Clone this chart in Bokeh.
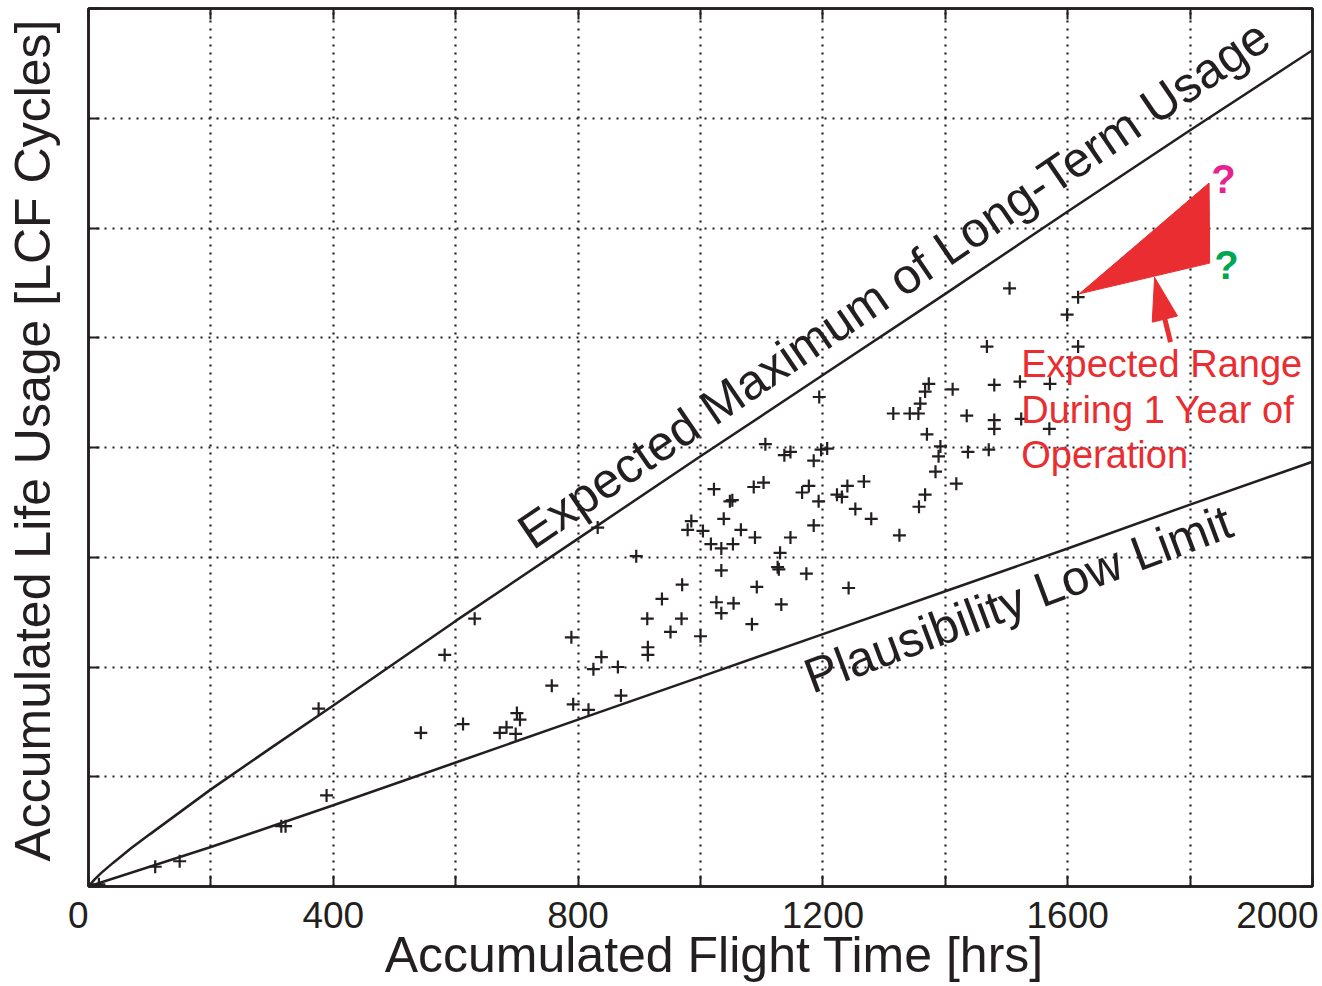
import math
from bokeh.plotting import figure
from bokeh.models import Range1d, FixedTicker, LinearAxis, Label
from bokeh.embed import file_html
from bokeh.resources import INLINE

# ---------------- data ----------------
flight_time = [17, 109, 149, 315, 322, 389, 376, 543, 582, 612, 631,
               672, 683, 698, 700, 705, 757, 789, 792, 817, 825, 838, 832, 865, 870,
               895, 914, 914, 913, 937, 951, 969, 970, 1000, 985, 979, 1004, 1022,
               1017, 1034, 1034, 1026, 1034, 1048, 1052, 1038, 1053, 1054, 1066,
               1084, 1089, 1092, 1087, 1103, 1106, 1130, 1126, 1128, 1147, 1132,
               1137, 1147, 1173, 1166, 1177, 1185, 1193, 1185, 1197, 1207, 1223,
               1231, 1240, 1253, 1267, 1279, 1242, 1315, 1325,
               1505, 1617, 1599, 1617, 1468, 1373, 1367, 1412, 1480, 1522, 1571,
               1194, 1359, 1342, 1356, 1435, 1480, 1480, 1524, 1570, 1370, 1392,
               1389, 1437, 1471, 1384, 1418, 1367, 1357]
life_usage = [0.02, 0.18, 0.23, 0.55, 0.55, 0.83, 1.62, 1.40, 2.11, 1.48, 2.44,
              1.40, 1.45, 1.39, 1.58, 1.52, 1.83, 2.27, 1.66, 1.61, 1.98, 2.09, 3.27, 2.00, 1.74,
              3.01, 2.18, 2.11, 2.44, 2.62, 2.32, 2.44, 2.75, 2.28, 3.33, 3.25, 3.24, 3.62,
              3.12, 3.08, 2.88, 2.59, 2.49, 3.51, 3.52, 3.35, 3.12, 2.58, 3.25,
              2.39, 3.18, 2.73, 3.64, 3.68, 4.03, 3.04, 2.91, 2.89, 3.18, 2.57,
              3.93, 3.96, 2.85, 3.59, 3.65, 3.29, 3.51, 3.88, 3.98, 3.99, 3.57,
              3.55, 3.65, 3.44, 3.69, 3.35, 2.72, 4.31, 3.20,
              5.45, 5.37, 5.21, 4.92, 4.92, 4.58, 4.51, 4.53, 4.57, 4.60, 4.58,
              4.46, 4.40, 4.31, 4.31, 4.29, 4.25, 4.17, 4.26, 4.17, 4.12, 4.01,
              3.92, 3.96, 3.98, 3.78, 3.67, 3.57, 3.46]

max_curve_hrs = [0, 10, 20, 40, 70, 100, 150, 200, 300, 400, 600, 800, 1000, 1200, 1400, 1600, 1800, 2000]
max_curve_lcf = [0, 0.065, 0.12, 0.215, 0.35, 0.475, 0.68, 0.885, 1.27, 1.65, 2.42, 3.17, 3.92, 4.66, 5.40, 6.15, 6.89, 7.62]

low_limit_hrs = [0, 200, 400, 600, 800, 1000, 1200, 1400, 1600, 1800, 2000]
low_limit_lcf = [0, 0.36, 0.74, 1.13, 1.52, 1.91, 2.30, 2.69, 3.08, 3.48, 3.87]

range_hrs = [1619, 1831, 1832]
range_lcf = [5.40, 6.41, 5.68]

arrow_hrs = [1768, 1742]   # tail, tip
arrow_lcf = [4.96, 5.55]

x_ticks = [0, 200, 400, 600, 800, 1000, 1200, 1400, 1600, 1800, 2000]
x_tick_labels = ["0", "", "400", "", "800", "", "1200", "", "1600", "", "2000"]
y_ticks = [0, 1, 2, 3, 4, 5, 6, 7, 8]

x_title = "Accumulated Flight Time [hrs]"
y_title = "Accumulated Life Usage [LCF Cycles]"
upper_label = "Expected Maximum of Long-Term Usage"
lower_label = "Plausibility Low Limit"
range_text = ["Expected Range", "During 1 Year of", "Operation"]

# ---------------- styling ----------------
BLACK = "#231f20"
RED = "#e92d30"
PINK = "#e6228c"
GREEN = "#00a651"
FONT = "Liberation Sans"
NBSP = "\u00a0"

W, H = 1318, 985
BL, BR, BT, BB = 88, 6, 8, 98
FW, FH = W - BL - BR, H - BT - BB
X0, X1, Y0, Y1 = 0, 2000, 0, 8

p = figure(width=W, height=H, x_range=Range1d(X0, X1), y_range=Range1d(Y0, Y1),
           output_backend="svg", toolbar_location=None,
           min_border_left=BL, min_border_right=BR, min_border_top=BT, min_border_bottom=BB)
p.background_fill_color = "white"
p.border_fill_color = "white"
p.outline_line_color = BLACK
p.outline_line_width = 2.5


def style_axis(ax, ticks):
    ax.ticker = FixedTicker(ticks=ticks)
    ax.axis_line_color = BLACK
    ax.axis_line_width = 2.5
    ax.major_tick_line_color = BLACK
    ax.major_tick_line_width = 2
    ax.major_tick_in = 11
    ax.major_tick_out = 0
    ax.minor_tick_line_color = None


def hide_labels(ax, ticks):
    ax.major_label_overrides = {t: "" for t in ticks}
    ax.major_label_text_font_size = "0px"
    ax.major_label_standoff = 0


# bottom axis: tick labels + title ("0" pulled slightly inward as in the original)
xb = p.xaxis[0]
style_axis(xb, x_ticks)
overrides = {t: lab for t, lab in zip(x_ticks, x_tick_labels)}
overrides[x_ticks[0]] = x_tick_labels[0] + NBSP * 2
xb.major_label_overrides = overrides
xb.major_label_text_font = FONT
xb.major_label_text_font_size = "37px"
xb.major_label_text_color = BLACK
xb.major_label_standoff = 8
xb.axis_label = NBSP * 2 + x_title
xb.axis_label_text_font = FONT
xb.axis_label_text_font_size = "50px"
xb.axis_label_text_font_style = "normal"
xb.axis_label_text_color = BLACK
xb.axis_label_standoff = -12

yl = p.yaxis[0]
style_axis(yl, y_ticks)
hide_labels(yl, y_ticks)
yl.axis_label = NBSP + y_title
yl.axis_label_text_font = FONT
yl.axis_label_text_font_size = "50px"
yl.axis_label_text_font_style = "normal"
yl.axis_label_text_color = BLACK
yl.axis_label_standoff = 28

xt = LinearAxis()
style_axis(xt, x_ticks)
hide_labels(xt, x_ticks)
p.add_layout(xt, "above")

yr = LinearAxis()
style_axis(yr, y_ticks)
hide_labels(yr, y_ticks)
p.add_layout(yr, "right")

p.xgrid.ticker = FixedTicker(ticks=x_ticks[1:-1])
p.ygrid.ticker = FixedTicker(ticks=y_ticks[1:-1])
for g in (p.xgrid[0], p.ygrid[0]):
    g.grid_line_color = BLACK
    g.grid_line_dash = "2 6"
    g.grid_line_width = 2.2
    g.grid_line_alpha = 1.0

# ---------------- glyphs ----------------
p.line(max_curve_hrs, max_curve_lcf, line_color=BLACK, line_width=2.5)
p.line(low_limit_hrs, low_limit_lcf, line_color=BLACK, line_width=2.5)
p.scatter(flight_time, life_usage, marker="cross", size=13, line_color=BLACK, line_width=2.2)

p.patch(range_hrs, range_lcf, fill_color=RED, line_color=RED, line_width=1)

# arrow: shaft + filled head, head geometry in screen pixels
sx = FW / (X1 - X0)
sy = FH / (Y1 - Y0)
tx, ty = arrow_hrs[1], arrow_lcf[1]
dx = (arrow_hrs[1] - arrow_hrs[0]) * sx
dy = (arrow_lcf[1] - arrow_lcf[0]) * sy
L = math.hypot(dx, dy)
ux, uy = dx / L, dy / L
nx, ny = -uy, ux
head_len, head_half = 43, 13
bx_px, by_px = -ux * head_len, -uy * head_len
base_x = tx + bx_px / sx
base_y = ty + by_px / sy
head_x = [tx, tx + (bx_px + nx * head_half) / sx, tx + (bx_px - nx * head_half) / sx]
head_y = [ty, ty + (by_px + ny * head_half) / sy, ty + (by_px - ny * head_half) / sy]
p.segment(x0=[arrow_hrs[0]], y0=[arrow_lcf[0]], x1=[base_x], y1=[base_y],
          line_color=RED, line_width=5)
p.patch(head_x, head_y, fill_color=RED, line_color=RED, line_width=1)

# ---------------- texts inside the frame ----------------
def add_label(x, y, text, size, color=BLACK, angle=0, align="left",
              baseline="alphabetic", style="normal"):
    p.add_layout(Label(x=x, y=y, text=text, angle=angle, angle_units="deg",
                       text_font=FONT, text_font_size=size, text_color=color,
                       text_align=align, text_baseline=baseline,
                       text_font_style=style))


add_label(710, 3.19, upper_label, "49.5px", angle=34.3)
add_label(1173, 1.90, lower_label, "49px", angle=20.5)

for i, t in enumerate(range_text):
    add_label(1524, [4.763, 4.344, 3.929][i], t, "38px", color=RED)

add_label(1854.6, 6.446, "?", "40px", color=PINK, align="center", style="bold")
add_label(1859.5, 5.659, "?", "40px", color=GREEN, align="center", style="bold")

open("out.html", "w").write(file_html(p, INLINE))
